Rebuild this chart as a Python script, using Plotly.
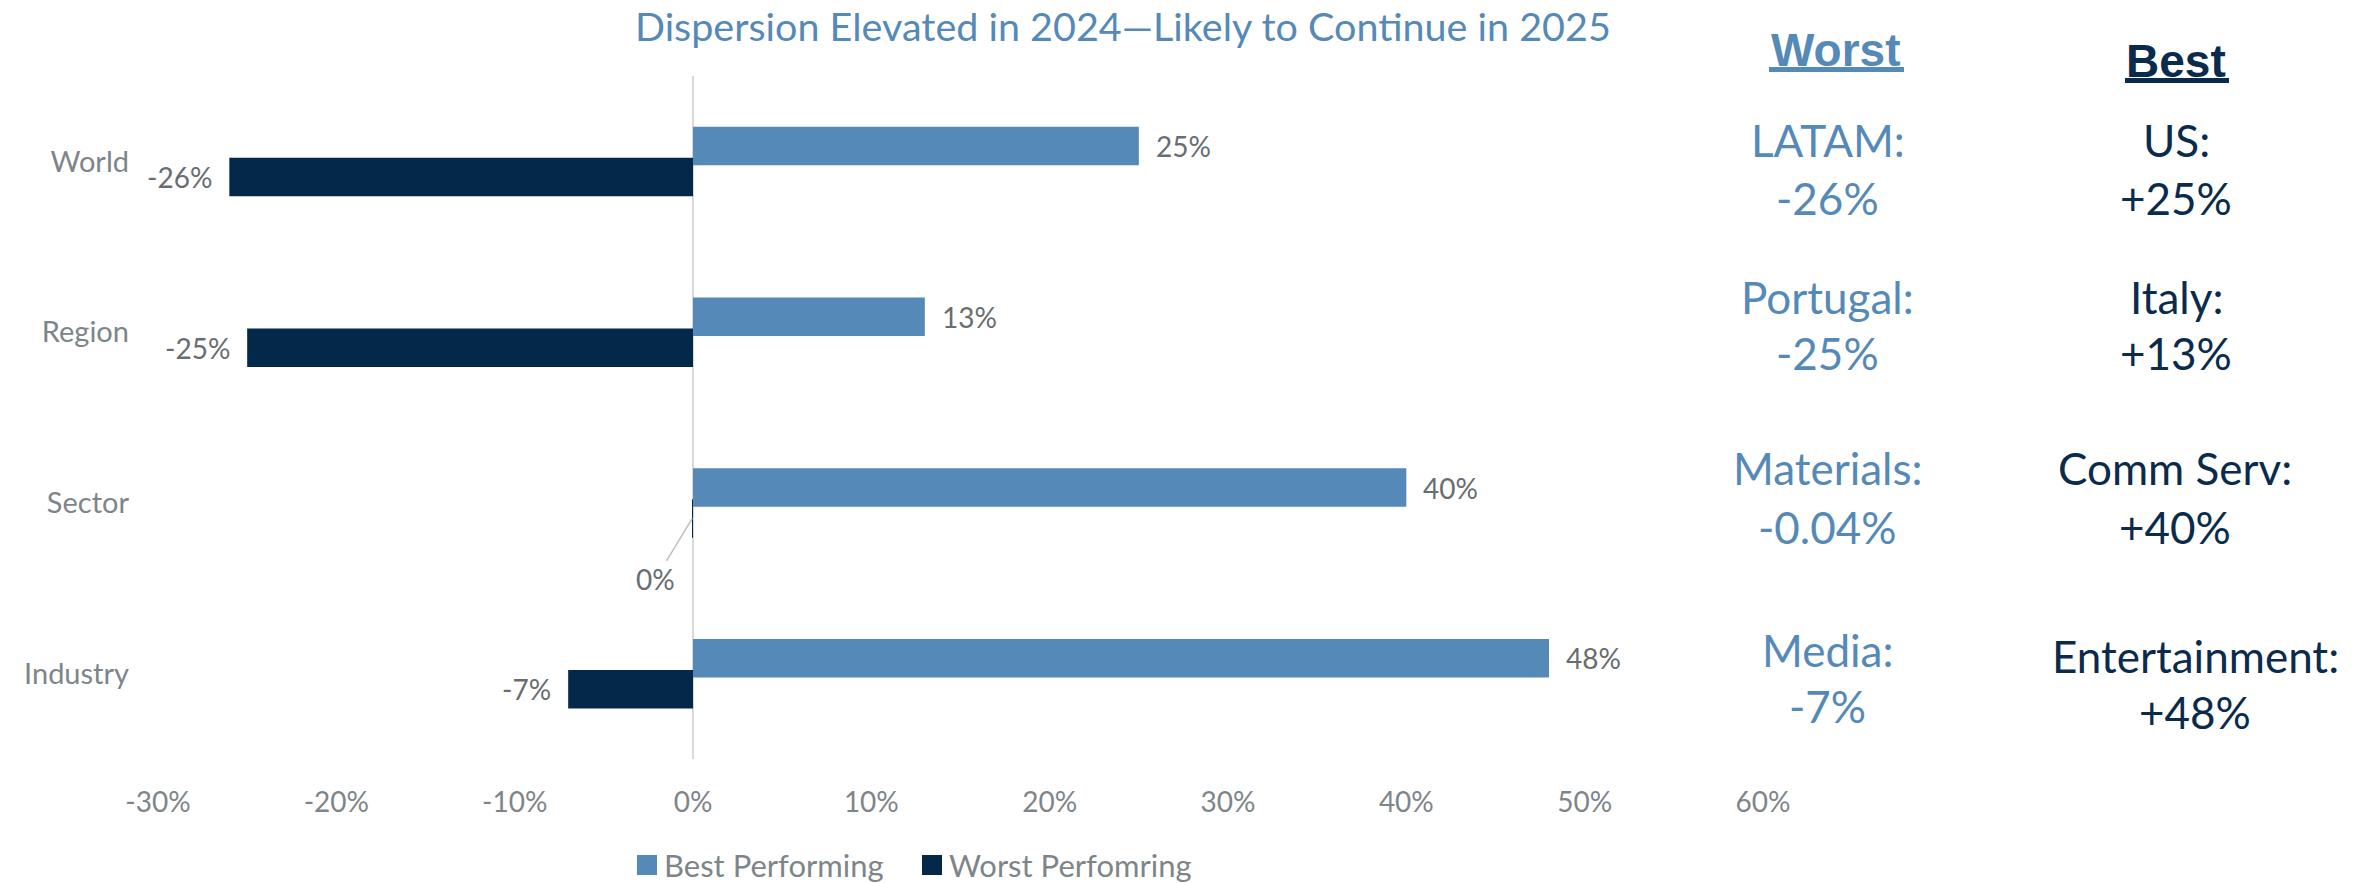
import plotly.graph_objects as go

# ---- data -------------------------------------------------------------
categories = ["World", "Region", "Sector", "Industry"]
best_perf = [25, 13, 40, 48]          # % return, best performer in each group
worst_perf = [-26, -25, -0.04, -7]    # % return, worst performer in each group

worst_names = ["LATAM:", "Portugal:", "Materials:", "Media:"]
best_names = ["US:", "Italy:", "Comm Serv:", "Entertainment:"]

x_ticks = [-30, -20, -10, 0, 10, 20, 30, 40, 50, 60]

# ---- styling ----------------------------------------------------------
W, H = 2366, 883
PLOT_L, PLOT_R, PLOT_T, PLOT_B = 158, 1763, 76, 759
BLUE = "#5589B8"
NAVY = "#03284A"
NAVY_TXT = "#0B2B4C"
GRAY = "#7E8589"
LABEL_GRAY = "#686D71"
FONT = "Lato"

BAR_W = 0.2255
BEST_CENTER = -0.0896
WORST_CENTER = 0.091


def px_x(px):
    return (px - PLOT_L) / (PLOT_R - PLOT_L)


def px_y(py):
    return (PLOT_B - py) / (PLOT_B - PLOT_T)


pos = list(range(len(categories)))

fig = go.Figure()
fig.add_trace(go.Bar(
    name="Best Performing", orientation="h",
    x=best_perf, y=pos,
    width=BAR_W, offset=BEST_CENTER - BAR_W / 2,
    marker=dict(color=BLUE, line=dict(width=0)),
    showlegend=False,
))
fig.add_trace(go.Bar(
    name="Worst Perfomring", orientation="h",
    x=worst_perf, y=pos,
    width=BAR_W, offset=WORST_CENTER - BAR_W / 2,
    marker=dict(color=NAVY, line=dict(width=0)),
    showlegend=False,
))

annotations = []
shapes = []


def pct_label(v):
    return f"{int(round(v))}%"


# value labels next to each bar
for series, center in ((best_perf, BEST_CENTER), (worst_perf, WORST_CENTER)):
    for i, v in enumerate(series):
        txt = pct_label(v)
        if abs(v) < 0.5:
            # near-zero value: label pulled away with a leader line
            annotations.append(dict(
                x=v, y=i + center, xref="x", yref="y", text=txt,
                showarrow=True, arrowhead=0, arrowwidth=1.5,
                arrowcolor="#BFBFBF", ax=-37, ay=61, standoff=0,
                font=dict(family=FONT, size=28, color=LABEL_GRAY),
            ))
        else:
            annotations.append(dict(
                x=v, y=i + center, xref="x", yref="y", text=txt,
                showarrow=False,
                xanchor="left" if v > 0 else "right",
                xshift=15 if v > 0 else -15,
                yanchor="middle",
                font=dict(family=FONT, size=28, color=LABEL_GRAY),
            ))

# title
annotations.append(dict(
    x=px_x(1123), y=px_y(25), xref="paper", yref="paper",
    text="Dispersion Elevated in 2024\u2014Likely to Continue in 2025",
    showarrow=False, xanchor="center", yanchor="middle",
    font=dict(family=FONT, size=39.5, color=BLUE),
))

# right-hand summary panel: column headers with heavy underline
headers = [("Worst", 1836, 50, BLUE, 1769, 1904, 67),
           ("Best", 2176, 61, NAVY_TXT, 2125, 2229, 78)]
for text, hx, hy, col, ux0, ux1, uy in headers:
    annotations.append(dict(
        x=px_x(hx), y=px_y(hy), xref="paper", yref="paper",
        text=f"<b>{text}</b>", showarrow=False,
        xanchor="center", yanchor="middle",
        font=dict(family="Liberation Sans", size=46, color=col),
    ))
    shapes.append(dict(
        type="rect", xref="paper", yref="paper",
        x0=px_x(ux0), x1=px_x(ux1), y0=px_y(uy + 5), y1=px_y(uy),
        fillcolor=col, line=dict(width=0),
    ))

worst_x = [1828, 1828, 1828, 1828]
worst_name_y = [140, 297, 468, 650]
worst_val_y = [198, 353, 527, 706]
best_x = [2176, 2176, 2175, 2195]
best_name_y = [140, 297, 468, 656]
best_val_y = [198, 353, 527, 712]

for i in range(len(categories)):
    for name, val, xs, ny, vy, col in (
        (worst_names[i], worst_perf[i], worst_x[i], worst_name_y[i], worst_val_y[i], BLUE),
        (best_names[i], best_perf[i], best_x[i], best_name_y[i], best_val_y[i], NAVY_TXT),
    ):
        annotations.append(dict(
            x=px_x(xs), y=px_y(ny), xref="paper", yref="paper",
            text=name, showarrow=False, xanchor="center", yanchor="middle",
            font=dict(family=FONT, size=44, color=col),
        ))
        annotations.append(dict(
            x=px_x(xs), y=px_y(vy), xref="paper", yref="paper",
            text=f"{val:+g}%", showarrow=False, xanchor="center", yanchor="middle",
            font=dict(family=FONT, size=44, color=col),
        ))

# legend
legend_items = [("Best Performing", BLUE, 637), ("Worst Perfomring", NAVY, 922)]
for label, col, lx in legend_items:
    shapes.append(dict(
        type="rect", xref="paper", yref="paper",
        x0=px_x(lx), x1=px_x(lx + 20), y0=px_y(875), y1=px_y(855),
        fillcolor=col, line=dict(width=0),
    ))
    annotations.append(dict(
        x=px_x(lx + 25), y=px_y(865), xref="paper", yref="paper",
        text=label, showarrow=False, xanchor="left", yanchor="middle",
        font=dict(family=FONT, size=31, color=GRAY),
    ))

fig.update_layout(
    width=W, height=H,
    margin=dict(l=PLOT_L, r=W - PLOT_R, t=PLOT_T, b=H - PLOT_B, pad=0),
    paper_bgcolor="white", plot_bgcolor="white",
    barmode="overlay",
    showlegend=False,
    annotations=annotations,
    shapes=shapes,
    xaxis=dict(
        range=[x_ticks[0], x_ticks[-1]],
        tickvals=x_ticks,
        ticktext=[f"{t}%" for t in x_ticks],
        showgrid=False, showline=False,
        zeroline=True, zerolinecolor="#D9D9D9", zerolinewidth=1.5,
        ticks="", ticklabelstandoff=24,
        tickfont=dict(family=FONT, size=28, color=GRAY),
        fixedrange=True,
    ),
    yaxis=dict(
        range=[len(categories) - 0.5, -0.5],
        tickvals=pos, ticktext=categories,
        showgrid=False, showline=False, zeroline=False,
        ticks="", ticklabelstandoff=28,
        tickfont=dict(family=FONT, size=29, color=GRAY),
        fixedrange=True,
    ),
)

fig.write_html("out.html")
